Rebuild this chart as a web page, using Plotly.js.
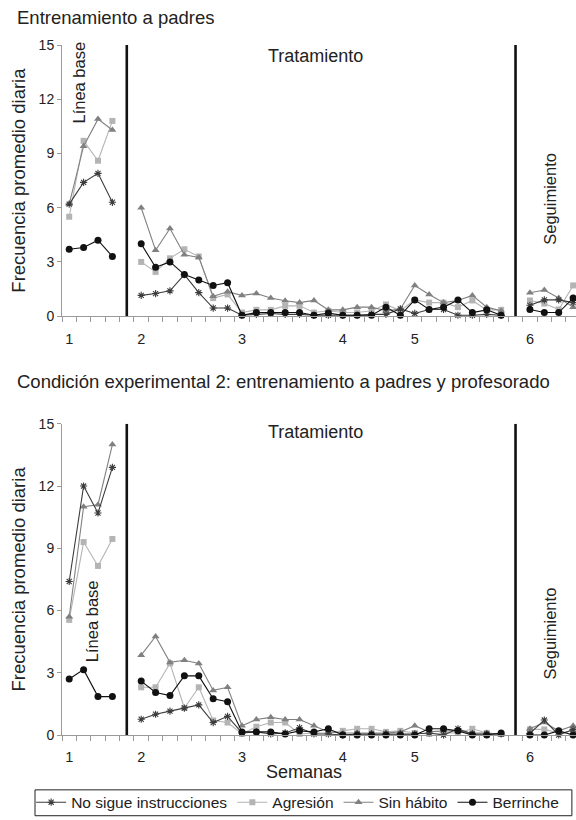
<!DOCTYPE html>
<html>
<head>
<meta charset="utf-8">
<script src="https://cdn.plot.ly/plotly-3.0.1.min.js"></script>
<style>html,body{margin:0;padding:0;background:#fff;}#chart{width:576px;height:820px;}</style>
</head>
<body>
<div id="chart"></div>
<script>
// ---------- DATA ----------
const seriesNames = ["No sigue instrucciones", "Agresión", "Sin hábito", "Berrinche"];
const weekLabels = ["1", "2", "3", "4", "5", "6"];
const weekTickDays = [0, 5, 12, 19, 24, 32];

// Panel 1: Entrenamiento a padres
const p1_noSigue_base = [6.2, 7.4, 7.9, 6.3];
const p1_noSigue_trat = [1.15, 1.25, 1.4, 2.3, 1.3, 0.45, 0.45, 0.05, 0.1, 0.15, 0.1, 0.1, 0.05, 0.05, 0.05, 0.05, 0.1, 0.1, 0.4, 0.15, 0.37, 0.37, 0.05, 0.05, 0.1, 0.05];
const p1_noSigue_seg = [0.6, 0.9, 0.9, 0.75];
const p1_agresion_base = [5.5, 9.7, 8.6, 10.8];
const p1_agresion_trat = [3.0, 2.45, 3.2, 3.7, 3.3, 1.0, 1.2, 0.2, 0.35, 0.35, 0.57, 0.57, 0.2, 0.3, 0.2, 0.2, 0.3, 0.65, 0.3, 0.9, 0.75, 0.75, 0.5, 0.87, 0.35, 0.35];
const p1_agresion_seg = [0.87, 0.7, 0.37, 1.7];
const p1_sinHabito_base = [6.2, 9.4, 10.9, 10.3];
const p1_sinHabito_trat = [6.0, 3.65, 4.85, 3.4, 3.25, 1.1, 1.35, 1.15, 1.25, 1.0, 0.85, 0.75, 0.87, 0.35, 0.35, 0.5, 0.5, 0.3, 0.4, 1.7, 1.2, 0.75, 0.87, 1.15, 0.5, 0.3];
const p1_sinHabito_seg = [1.3, 1.45, 1.0, 0.5];
const p1_berrinche_base = [3.7, 3.8, 4.2, 3.3];
const p1_berrinche_trat = [4.0, 2.7, 3.0, 2.3, 2.0, 1.7, 1.85, 0.05, 0.2, 0.2, 0.2, 0.2, 0.05, 0.17, 0.05, 0.05, 0.05, 0.5, 0.05, 0.9, 0.37, 0.5, 0.9, 0.2, 0.35, 0.05];
const p1_berrinche_seg = [0.37, 0.2, 0.2, 1.0];

// Panel 2: Condición experimental 2
const p2_noSigue_base = [7.4, 12.0, 10.7, 12.9];
const p2_noSigue_trat = [0.76, 1.0, 1.15, 1.3, 1.45, 0.6, 0.9, 0.1, 0.15, 0.05, 0.1, 0.35, 0.05, 0.05, 0.0, 0.05, 0.05, 0.05, 0.05, 0.05, 0.1, 0.0, 0.3, 0.05, 0.05, 0.05];
const p2_noSigue_seg = [0.08, 0.72, 0.0, 0.27];
const p2_agresion_base = [5.55, 9.3, 8.15, 9.45];
const p2_agresion_trat = [2.3, 2.3, 3.45, 1.3, 2.3, 0.7, 0.6, 0.05, 0.4, 0.6, 0.6, 0.05, 0.1, 0.1, 0.2, 0.3, 0.3, 0.15, 0.2, 0.1, 0.05, 0.1, 0.1, 0.3, 0.1, 0.05];
const p2_agresion_seg = [0.27, 0.27, 0.1, 0.2];
const p2_sinHabito_base = [5.7, 11.0, 11.1, 14.0];
const p2_sinHabito_trat = [3.85, 4.75, 3.5, 3.6, 3.45, 2.15, 2.3, 0.45, 0.75, 0.85, 0.75, 0.75, 0.45, 0.15, 0.1, 0.1, 0.1, 0.1, 0.15, 0.45, 0.15, 0.2, 0.2, 0.1, 0.1, 0.03];
const p2_sinHabito_seg = [0.3, 0.6, 0.2, 0.45];
const p2_berrinche_base = [2.7, 3.15, 1.85, 1.85];
const p2_berrinche_trat = [2.6, 2.05, 1.9, 2.85, 2.85, 1.75, 1.6, 0.15, 0.15, 0.15, 0.05, 0.2, 0.15, 0.3, 0.0, 0.0, 0.0, 0.0, 0.0, 0.0, 0.3, 0.3, 0.2, 0.0, 0.0, 0.1];
const p2_berrinche_seg = [0.0, 0.0, 0.2, 0.0];

// ---------- BUILD ----------
const FONT = "Liberation Sans, Arial, Helvetica, sans-serif";
const nBase = p1_noSigue_base.length, nTrat = p1_noSigue_trat.length, nSeg = p1_noSigue_seg.length;
const phase1End = nBase;                 // day index of first phase line
const phase2End = nBase + 1 + nTrat;     // day index of second phase line
const lastDay = phase2End + nSeg;

function combine(b, t, s) { return b.concat([null], t, [null], s); }
const xDays = [];
for (let i = 0; i <= lastDay; i++) xDays.push(i);

const styles = [
  {color: "#3c3c3c", symbol: "asterisk-open", size: 6, lw: 1.1},
  {color: "#b4b4b4", symbol: "square", size: 6, lw: 1.1},
  {color: "#808080", symbol: "triangle-up", size: 7, lw: 1.1},
  {color: "#111111", symbol: "circle", size: 7, lw: 1.1}
];

const p1 = [
  combine(p1_noSigue_base, p1_noSigue_trat, p1_noSigue_seg),
  combine(p1_agresion_base, p1_agresion_trat, p1_agresion_seg),
  combine(p1_sinHabito_base, p1_sinHabito_trat, p1_sinHabito_seg),
  combine(p1_berrinche_base, p1_berrinche_trat, p1_berrinche_seg)
];
const p2 = [
  combine(p2_noSigue_base, p2_noSigue_trat, p2_noSigue_seg),
  combine(p2_agresion_base, p2_agresion_trat, p2_agresion_seg),
  combine(p2_sinHabito_base, p2_sinHabito_trat, p2_sinHabito_seg),
  combine(p2_berrinche_base, p2_berrinche_trat, p2_berrinche_seg)
];

const drawOrder = [1, 2, 0, 3];
const traces = [];
[[p1, "x", "y", true], [p2, "x3", "y2", false]].forEach(([panel, xa, ya, legend]) => {
  drawOrder.forEach(k => {
    const st = styles[k];
    traces.push({
      type: "scatter", mode: "lines+markers", x: xDays, y: panel[k],
      xaxis: xa, yaxis: ya, name: seriesNames[k], legendgroup: seriesNames[k],
      showlegend: legend, legendrank: k + 1, connectgaps: false, cliponaxis: false,
      line: {color: st.color, width: st.lw},
      marker: {symbol: st.symbol, size: st.size, color: st.color,
               line: {color: st.color, width: st.symbol === "asterisk-open" ? 1.1 : 0}}
    });
  });
});
// invisible carriers so the week-label axes are drawn
[["x2", "y"], ["x4", "y2"]].forEach(([xa, ya]) => {
  traces.push({type: "scatter", mode: "markers", x: weekTickDays, y: weekTickDays.map(() => 0),
               xaxis: xa, yaxis: ya, showlegend: false, hoverinfo: "skip",
               marker: {opacity: 0, size: 1}});
});

const halfTicks = [];
for (let i = -0.5; i <= lastDay + 0.5; i += 1) halfTicks.push(i);
const xRange = [-0.5, 35.2];

function tickAxis(anchor) {
  return {anchor: anchor, range: xRange, tickvals: halfTicks, ticks: "outside", ticklen: 5,
          tickcolor: "#9a9a9a", tickwidth: 1, showticklabels: false, showline: true,
          linecolor: "#9a9a9a", linewidth: 1, showgrid: false, zeroline: false, fixedrange: true};
}
function labelAxis(over, anchor) {
  return {overlaying: over, anchor: anchor, range: xRange, tickvals: weekTickDays, ticktext: weekLabels,
          ticks: "outside", ticklen: 9, tickcolor: "rgba(0,0,0,0)", showline: false, showgrid: false,
          zeroline: false, tickfont: {family: FONT, size: 14.5, color: "#222"}};
}
function yAx(domain, anchor) {
  return {domain: domain, anchor: anchor, range: [0, 15], tickvals: [0, 3, 6, 9, 12, 15],
          ticks: "outside", ticklen: 4, tickcolor: "#9a9a9a", showline: true, linecolor: "#9a9a9a",
          showgrid: false, zeroline: false, tickfont: {family: FONT, size: 14, color: "#222"},
          title: {text: "Frecuencia promedio diaria", font: {family: FONT, size: 18.5, color: "#222"}, standoff: 8}};
}

function vline(xa, ya, x) {
  return {type: "line", xref: xa, yref: ya, x0: x, x1: x, y0: 0, y1: 15,
          line: {color: "#111", width: 2.6}};
}

const txt = (text, xref, yref, x, y, angle, size) => ({
  text: text, xref: xref, yref: yref, x: x, y: y, textangle: angle || 0, showarrow: false,
  font: {family: FONT, size: size || 16.5, color: "#222"}, xanchor: "center", yanchor: "middle"
});

const annotations = [
  {text: "Entrenamiento a padres", xref: "paper", yref: "paper", x: -0.0914, y: 1.04, xanchor: "left",
   yanchor: "middle", showarrow: false, font: {family: FONT, size: 18.5, color: "#222"}},
  {text: "Condición experimental 2: entrenamiento a padres y profesorado", xref: "paper", yref: "paper",
   x: -0.0914, y: 0.513, xanchor: "left", yanchor: "middle", showarrow: false,
   font: {family: FONT, size: 18.5, color: "#222"}},
  txt("Línea base", "x", "y", 0.65, 12.9, -90),
  txt("Tratamiento", "x", "y", 17.1, 14.4, 0, 18),
  txt("Seguimiento", "x", "y", 33.4, 6.5, -90),
  txt("Línea base", "x3", "y2", 1.6, 5.5, -90),
  txt("Tratamiento", "x3", "y2", 17.1, 14.6, 0, 18),
  txt("Seguimiento", "x3", "y2", 33.4, 4.9, -90),
  {text: "Semanas", xref: "paper", yref: "paper", x: 0.47, y: -0.0535, xanchor: "center", yanchor: "middle",
   showarrow: false, font: {family: FONT, size: 18, color: "#222"}}
];

const layout = {
  width: 576, height: 820,
  margin: {l: 62, r: 0, t: 45, b: 83},
  paper_bgcolor: "#fff", plot_bgcolor: "#fff",
  font: {family: FONT, color: "#222"},
  showlegend: true,
  legend: {orientation: "h", x: -0.06, xanchor: "left", y: -0.098, yanchor: "middle",
           borderwidth: 0, bgcolor: "rgba(0,0,0,0)", font: {family: FONT, size: 15.5, color: "#222"},
           itemwidth: 30, tracegroupgap: 0},
  xaxis: Object.assign(tickAxis("y"), {domain: [0, 1]}),
  xaxis2: labelAxis("x", "y"),
  xaxis3: Object.assign(tickAxis("y2"), {domain: [0, 1]}),
  xaxis4: labelAxis("x3", "y2"),
  yaxis: yAx([0.607, 1], "x"),
  yaxis2: yAx([0, 0.451], "x3"),
  shapes: [vline("x", "y", phase1End), vline("x", "y", phase2End),
           vline("x3", "y2", phase1End), vline("x3", "y2", phase2End),
           {type: "rect", xref: "paper", yref: "paper", x0: -0.0525, x1: 0.992, y0: -0.117, y1: -0.0795,
            line: {color: "#222", width: 1}, fillcolor: "rgba(0,0,0,0)"}],
  annotations: annotations
};

Plotly.newPlot("chart", traces, layout, {staticPlot: true, displayModeBar: false});
</script>
</body>
</html>
